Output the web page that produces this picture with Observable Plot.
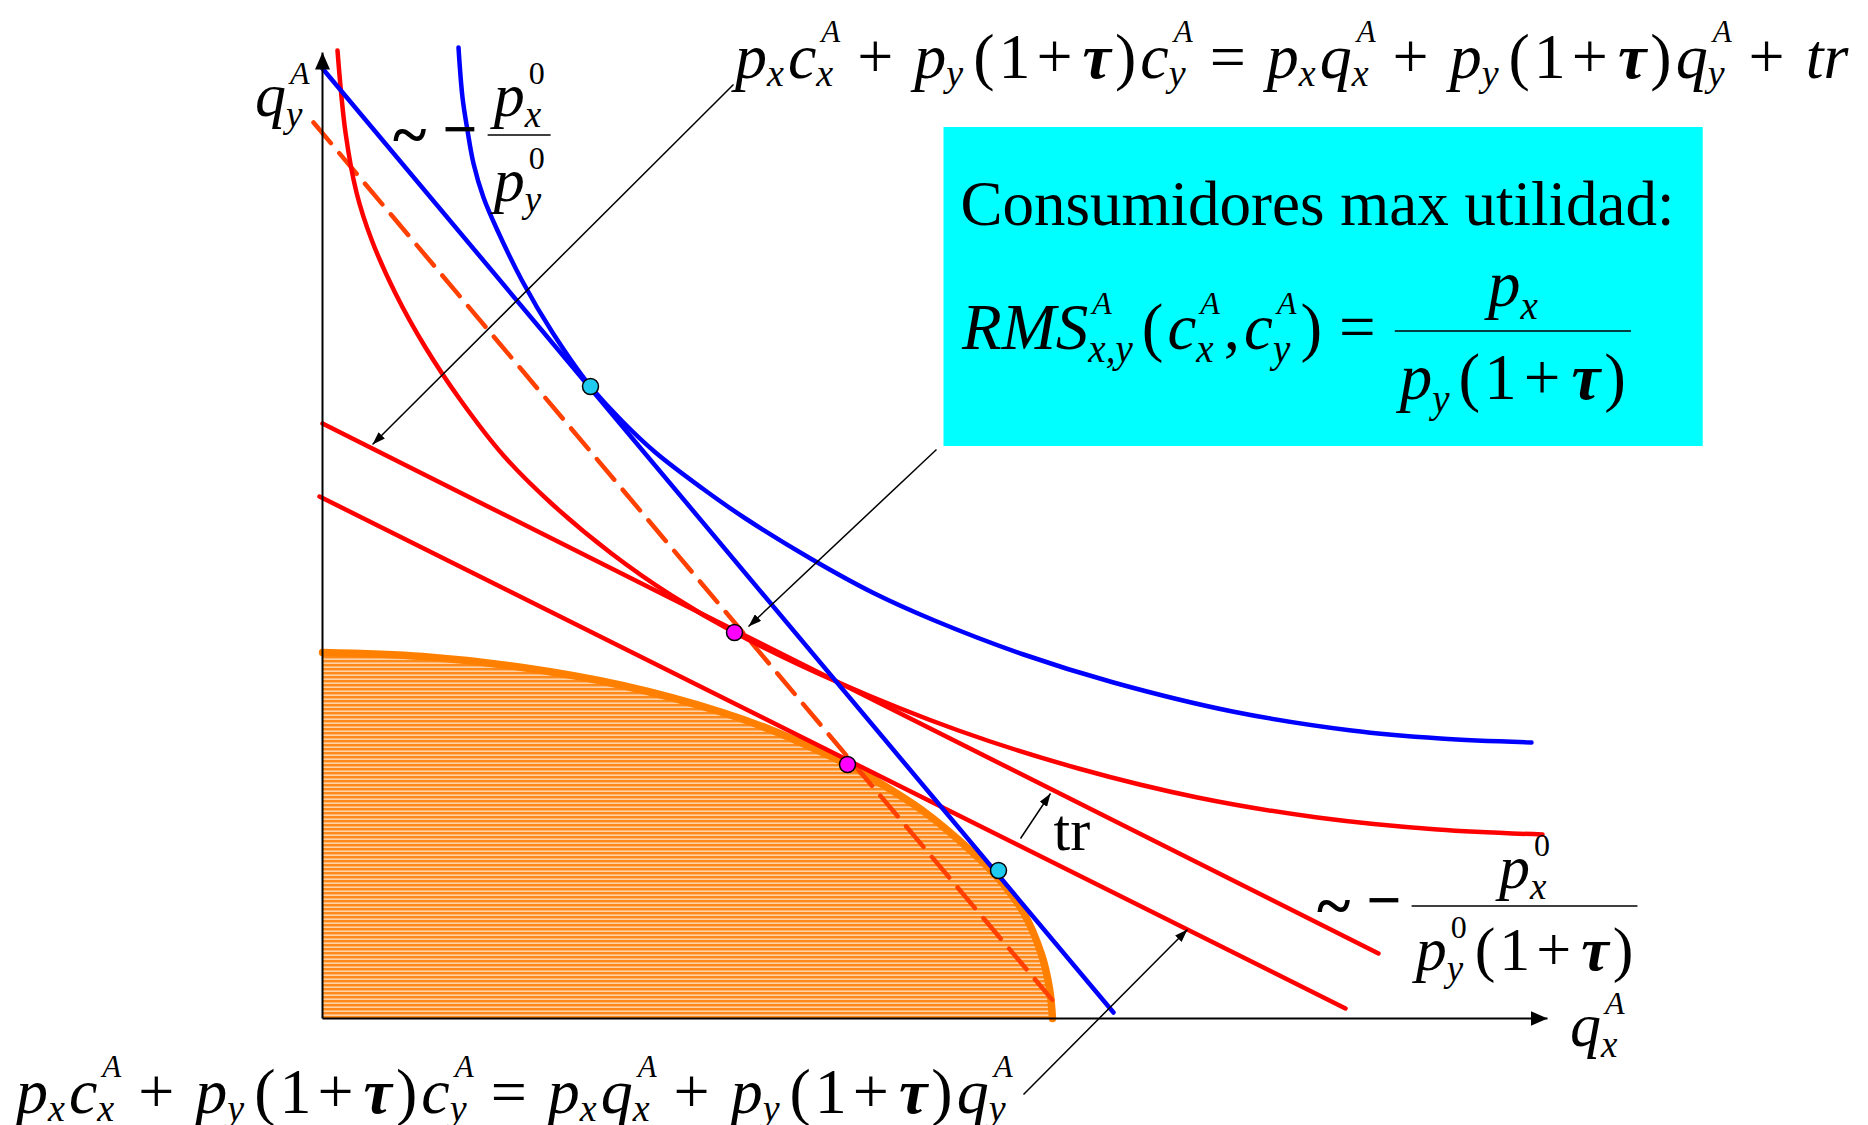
<!DOCTYPE html>
<html>
<head>
<meta charset="utf-8">
<script src="https://cdn.jsdelivr.net/npm/d3@7"></script>
<script src="https://cdn.jsdelivr.net/npm/@observablehq/plot@0.6"></script>
<style>
  html, body { margin: 0; padding: 0; background: #ffffff; }
  #chart { width: 1868px; height: 1125px; overflow: hidden; }
</style>
</head>
<body>
<div id="chart"></div>
<script>
// ---------------- DATA (in chart units) ----------------
const redIndifference = [
  [0.15, 9.68], [0.23, 8.86], [0.34, 8.26], [0.49, 7.79], [0.73, 7.25], [1.03, 6.71],
  [1.39, 6.17], [1.81, 5.63], [2.29, 5.15], [2.89, 4.65], [3.49, 4.23], [4.12, 3.86],
  [5.16, 3.36], [6.36, 2.88], [7.56, 2.50], [8.75, 2.21], [9.95, 2.01], [11.15, 1.89], [12.20, 1.84]
];
const blueIndifference = [
  [1.36, 9.71], [1.40, 9.21], [1.45, 8.88], [1.51, 8.55], [1.61, 8.21], [1.75, 7.88],
  [2.00, 7.37], [2.30, 6.86], [2.68, 6.32], [3.00, 5.97], [3.33, 5.66], [3.80, 5.30],
  [4.23, 5.00], [4.88, 4.60], [5.50, 4.26], [6.12, 3.98], [7.01, 3.64], [7.91, 3.36],
  [9.10, 3.07], [10.29, 2.88], [11.18, 2.80], [12.09, 2.76]
];
const blueBudget = [[0.00, 9.50], [7.91, 0.06]];
const dashedBudget = [[-0.09, 8.96], [7.37, 0.10]];
const redBudgetUpper = [[0.00, 5.95], [10.56, 0.65]];
const redBudgetLower = [[-0.03, 5.22], [10.23, 0.10]];
const frontier = [
  [0.00, 3.66], [1.00, 3.62], [2.00, 3.51], [3.00, 3.33], [4.00, 3.06], [4.50, 2.88],
  [5.00, 2.66], [5.25, 2.54], [5.50, 2.40], [6.00, 2.08], [6.48, 1.68], [6.76, 1.40],
  [7.01, 1.06], [7.19, 0.64], [7.27, 0.30], [7.30, 0.00]
];
const cyanPoints = [[2.68, 6.32], [6.76, 1.48]];
const magentaPoints = [[4.12, 3.86], [5.25, 2.54]];
const axesArrows = [
  {x1: 0, y1: 0, x2: 0, y2: 9.66},
  {x1: 0, y1: 0, x2: 12.25, y2: 0}
];
const pointerArrows = [
  {x1: 4.11, y1: 9.34, x2: 0.50, y2: 5.74},
  {x1: 6.14, y1: 5.69, x2: 4.26, y2: 3.92},
  {x1: 6.98, y1: 1.80, x2: 7.28, y2: 2.25},
  {x1: 7.01, y1: -0.76, x2: 8.65, y2: 0.89}
];
const infoBox = [{x1: 6.215, x2: 13.807, y1: 5.72, y2: 8.91}];
const boxTitle = "Consumidores max utilidad:";
const trLabel = "tr";
const topEquation = "p_x c_x^A + p_y ( 1 +' τ ) c_y^A = p_x q_x^A + p_y ( 1 +' τ ) q_y^A + tr";
const bottomEquation = "p_x c_x^A + p_y ( 1 +' τ ) c_y^A = p_x q_x^A + p_y ( 1 +' τ ) q_y^A";
const rmsLeft = "RMS_x,y^A ( c_x^A , c_y^A ) =";
const rmsNumerator = "p_x";
const rmsDenominator = "p_y ( 1 +' τ )";
const yAxisLabel = "q_y^A";
const xAxisLabel = "q_x^A";
const leftSlopeNum = "p_x^0";
const leftSlopeDen = "p_y^0";
const rightSlopeNum = "p_x^0";
const rightSlopeDen = "p_y^0 ( 1 +' τ )";

// ---------------- annotation anchors (chart units) ----------------
const anchors = {
  top: [4.13, 9.40], bottom: [-3.06, -0.95], box: [6.38, 7.94], rms: [6.40, 6.69],
  rmsLine: 6.87, qy: [-0.67, 9.02], qx: [12.48, -0.28], tr: [7.31, 1.69],
  leftSlope: [0.71, 8.83], rightSlope: [9.95, 1.12]
};

const FONT = "'Liberation Serif','Times New Roman',Times,serif";

const plot = Plot.plot({
  width: 1868,
  height: 1125,
  marginLeft: 322,
  marginRight: 321,
  marginTop: 52,
  marginBottom: 107,
  x: {domain: [0, 12.25], axis: null},
  y: {domain: [0, 9.66], axis: null},
  style: {background: "#ffffff", overflow: "visible"},
  marks: [
    Plot.rect(infoBox, {x1: "x1", x2: "x2", y1: "y1", y2: "y2", fill: "#00ffff"}),
    Plot.areaY(frontier, {x: d => d[0], y: d => d[1], fill: "url(#ppfStripes)", curve: "catmull-rom"}),
    Plot.line(frontier, {x: d => d[0], y: d => d[1], stroke: "#ff8000", strokeWidth: 7.5, curve: "catmull-rom"}),
    Plot.line(dashedBudget, {x: d => d[0], y: d => d[1], stroke: "#ff4000", strokeWidth: 4.5, strokeDasharray: "27,13"}),
    Plot.line(redBudgetLower, {x: d => d[0], y: d => d[1], stroke: "#ff0000", strokeWidth: 4.5}),
    Plot.line(redBudgetUpper, {x: d => d[0], y: d => d[1], stroke: "#ff0000", strokeWidth: 4.5}),
    Plot.line(redIndifference, {x: d => d[0], y: d => d[1], stroke: "#ff0000", strokeWidth: 4.5, curve: "catmull-rom"}),
    Plot.line(blueBudget, {x: d => d[0], y: d => d[1], stroke: "#0000ff", strokeWidth: 4.5}),
    Plot.line(blueIndifference, {x: d => d[0], y: d => d[1], stroke: "#0000ff", strokeWidth: 4.5, curve: "catmull-rom"}),
    Plot.link(axesArrows, {x1: "x1", y1: "y1", x2: "x2", y2: "y2", stroke: "#000", strokeWidth: 2}),
    Plot.link(pointerArrows, {x1: "x1", y1: "y1", x2: "x2", y2: "y2", stroke: "#000", strokeWidth: 1.5}),
    Plot.dot(cyanPoints, {x: d => d[0], y: d => d[1], r: 8, fill: "#1fcbef", stroke: "#000", strokeWidth: 1.5}),
    Plot.dot(magentaPoints, {x: d => d[0], y: d => d[1], r: 8, fill: "#ff00ff", stroke: "#000", strokeWidth: 1.5}),
    Plot.text([boxTitle], {x: anchors.box[0], y: anchors.box[1], text: d => d, textAnchor: "start", lineAnchor: "bottom", fontSize: 63, fontFamily: FONT, fill: "#000"}),
    Plot.text([trLabel], {x: anchors.tr[0], y: anchors.tr[1], text: d => d, textAnchor: "start", lineAnchor: "bottom", fontSize: 60, fontFamily: FONT, fill: "#000"})
  ]
});

document.getElementById("chart").appendChild(plot);

const svg = d3.select(plot.tagName.toLowerCase() === "svg" ? plot : plot.querySelector("svg"));
const xs = plot.scale("x"), ys = plot.scale("y");
const X = d3.scaleLinear(xs.domain, xs.range);
const Y = d3.scaleLinear(ys.domain, ys.range);

// defs: stripe pattern and arrowheads
const defs = svg.insert("defs", ":first-child");
const pat = defs.append("pattern").attr("id", "ppfStripes").attr("patternUnits", "userSpaceOnUse")
  .attr("width", 8).attr("height", 4);
pat.append("rect").attr("width", 8).attr("height", 4).attr("fill", "#ffd2a6");
pat.append("rect").attr("width", 8).attr("height", 2.4).attr("fill", "#ff8a1c");
function marker(id, len, wid) {
  defs.append("marker").attr("id", id).attr("viewBox", `0 0 ${len} ${wid}`)
    .attr("refX", len).attr("refY", wid / 2).attr("markerWidth", len).attr("markerHeight", wid)
    .attr("markerUnits", "userSpaceOnUse").attr("orient", "auto")
    .append("path").attr("d", `M0,0L${len},${wid / 2}L0,${wid}Z`).attr("fill", "#000");
}
marker("ahAxis", 17, 15);
marker("ahPtr", 13, 9);
const linkGroups = svg.selectAll('g[aria-label="link"]').nodes();
if (linkGroups[0]) d3.select(linkGroups[0]).selectAll("path,line").attr("marker-end", "url(#ahAxis)");
if (linkGroups[1]) d3.select(linkGroups[1]).selectAll("path,line").attr("marker-end", "url(#ahPtr)");

// ---------------- math typesetting ----------------
const mathLayer = svg.append("g").attr("class", "math").attr("text-anchor", "start");
function addText(g, txt, x, y, size, italic, bold) {
  return g.append("text").attr("x", x).attr("y", y)
    .attr("text-anchor", "start")
    .attr("font-family", FONT).attr("font-size", size)
    .attr("font-style", italic ? "italic" : "normal")
    .attr("font-weight", bold ? "bold" : "normal")
    .attr("fill", "#000").text(txt);
}
function isItalic(s) { return /[A-Za-zτ]/.test(s); }
function parseExpr(str) {
  return str.trim().split(/\s+/).map(tok => {
    if (tok === "+" || tok === "=") return {base: tok, op: "wide"};
    if (tok === "+'") return {base: "+", op: "thin"};
    const m = tok.match(/^([^_^]+)(?:_([^_^]+))?(?:\^([^_^]+))?$/);
    return {base: m[1], sub: m[2], sup: m[3]};
  });
}
function layout(g, str, x0, y0, st) {
  let cx = x0;
  parseExpr(str).forEach((a, i) => {
    if (a.op) cx += a.op === "wide" ? st.wideGap : st.thinGap;
    else if (a.base === "(") cx += st.parenGap;
    else if (i > 0) cx += st.atomGap;
    const t = addText(g, a.base, cx, y0, st.size, isItalic(a.base), a.base === "τ");
    let end = cx + t.node().getComputedTextLength();
    let w = 0;
    if (a.sup) {
      const s = addText(g, a.sup, end + st.supKern, y0 - st.supShift, st.supSize, isItalic(a.sup), false);
      w = Math.max(w, st.supKern + s.node().getComputedTextLength());
    }
    if (a.sub) {
      const s = addText(g, a.sub, end + st.subKern, y0 + st.subShift, st.subSize, isItalic(a.sub), false);
      w = Math.max(w, st.subKern + s.node().getComputedTextLength());
    }
    cx = end + w;
    if (a.op) cx += a.op === "wide" ? st.wideGap : st.thinGap;
  });
  return cx - x0;
}
function fraction(g, num, den, xLine, yLine, st, numDy, denDy, pad) {
  const gn = g.append("g"), gd = g.append("g");
  const wn = layout(gn, num, 0, 0, st), wd = layout(gd, den, 0, 0, st);
  const W = Math.max(wn, wd) + 2 * pad;
  gn.attr("transform", `translate(${xLine + (W - wn) / 2},${yLine - numDy})`);
  gd.attr("transform", `translate(${xLine + (W - wd) / 2},${yLine + denDy})`);
  g.append("line").attr("x1", xLine).attr("x2", xLine + W).attr("y1", yLine).attr("y2", yLine)
    .attr("stroke", "#000").attr("stroke-width", 1.6);
  return W;
}

const EQ = {size: 64, subSize: 38, supSize: 31, subShift: 8, supShift: 36, wideGap: 17, thinGap: 6, atomGap: 4, parenGap: 10, subKern: 0, supKern: 5};
const LB = {size: 62, subSize: 37, supSize: 32, subShift: 11, supShift: 32, wideGap: 19, thinGap: 6, atomGap: 4, parenGap: 8, subKern: 0, supKern: 4};
const RM = {size: 65, subSize: 39, supSize: 32, subShift: 13, supShift: 35, wideGap: 17, thinGap: 7, atomGap: 4, parenGap: 9, subKern: 0, supKern: 4};

layout(mathLayer, topEquation, X(anchors.top[0]), Y(anchors.top[1]), EQ);
layout(mathLayer, bottomEquation, X(anchors.bottom[0]), Y(anchors.bottom[1]), EQ);
layout(mathLayer, yAxisLabel, X(anchors.qy[0]), Y(anchors.qy[1]), LB);
layout(mathLayer, xAxisLabel, X(anchors.qx[0]), Y(anchors.qx[1]), LB);

// RMS formula
{
  const w = layout(mathLayer, rmsLeft, X(anchors.rms[0]), Y(anchors.rms[1]), RM);
  fraction(mathLayer, rmsNumerator, rmsDenominator, X(anchors.rms[0]) + w + 2, Y(anchors.rmsLine), RM, 25, 68, 5);
}
// slope labels
function slopeLabel(anchor, num, den, numDy, denDy, pad) {
  const x0 = X(anchor[0]), yl = Y(anchor[1]);
  const t1 = addText(mathLayer, "~", x0, yl + 21, 64, false, true);
  const x1 = x0 + t1.node().getComputedTextLength() + 16;
  const t2 = addText(mathLayer, "\u2212", x1, yl + 15, 62, false, true);
  const x2 = x1 + t2.node().getComputedTextLength() + 10;
  fraction(mathLayer, num, den, x2, yl, LB, numDy, denDy, pad);
}
slopeLabel(anchors.leftSlope, leftSlopeNum, leftSlopeDen, 19, 66, 6);
slopeLabel(anchors.rightSlope, rightSlopeNum, rightSlopeDen, 18, 64, 4);
</script>
</body>
</html>
